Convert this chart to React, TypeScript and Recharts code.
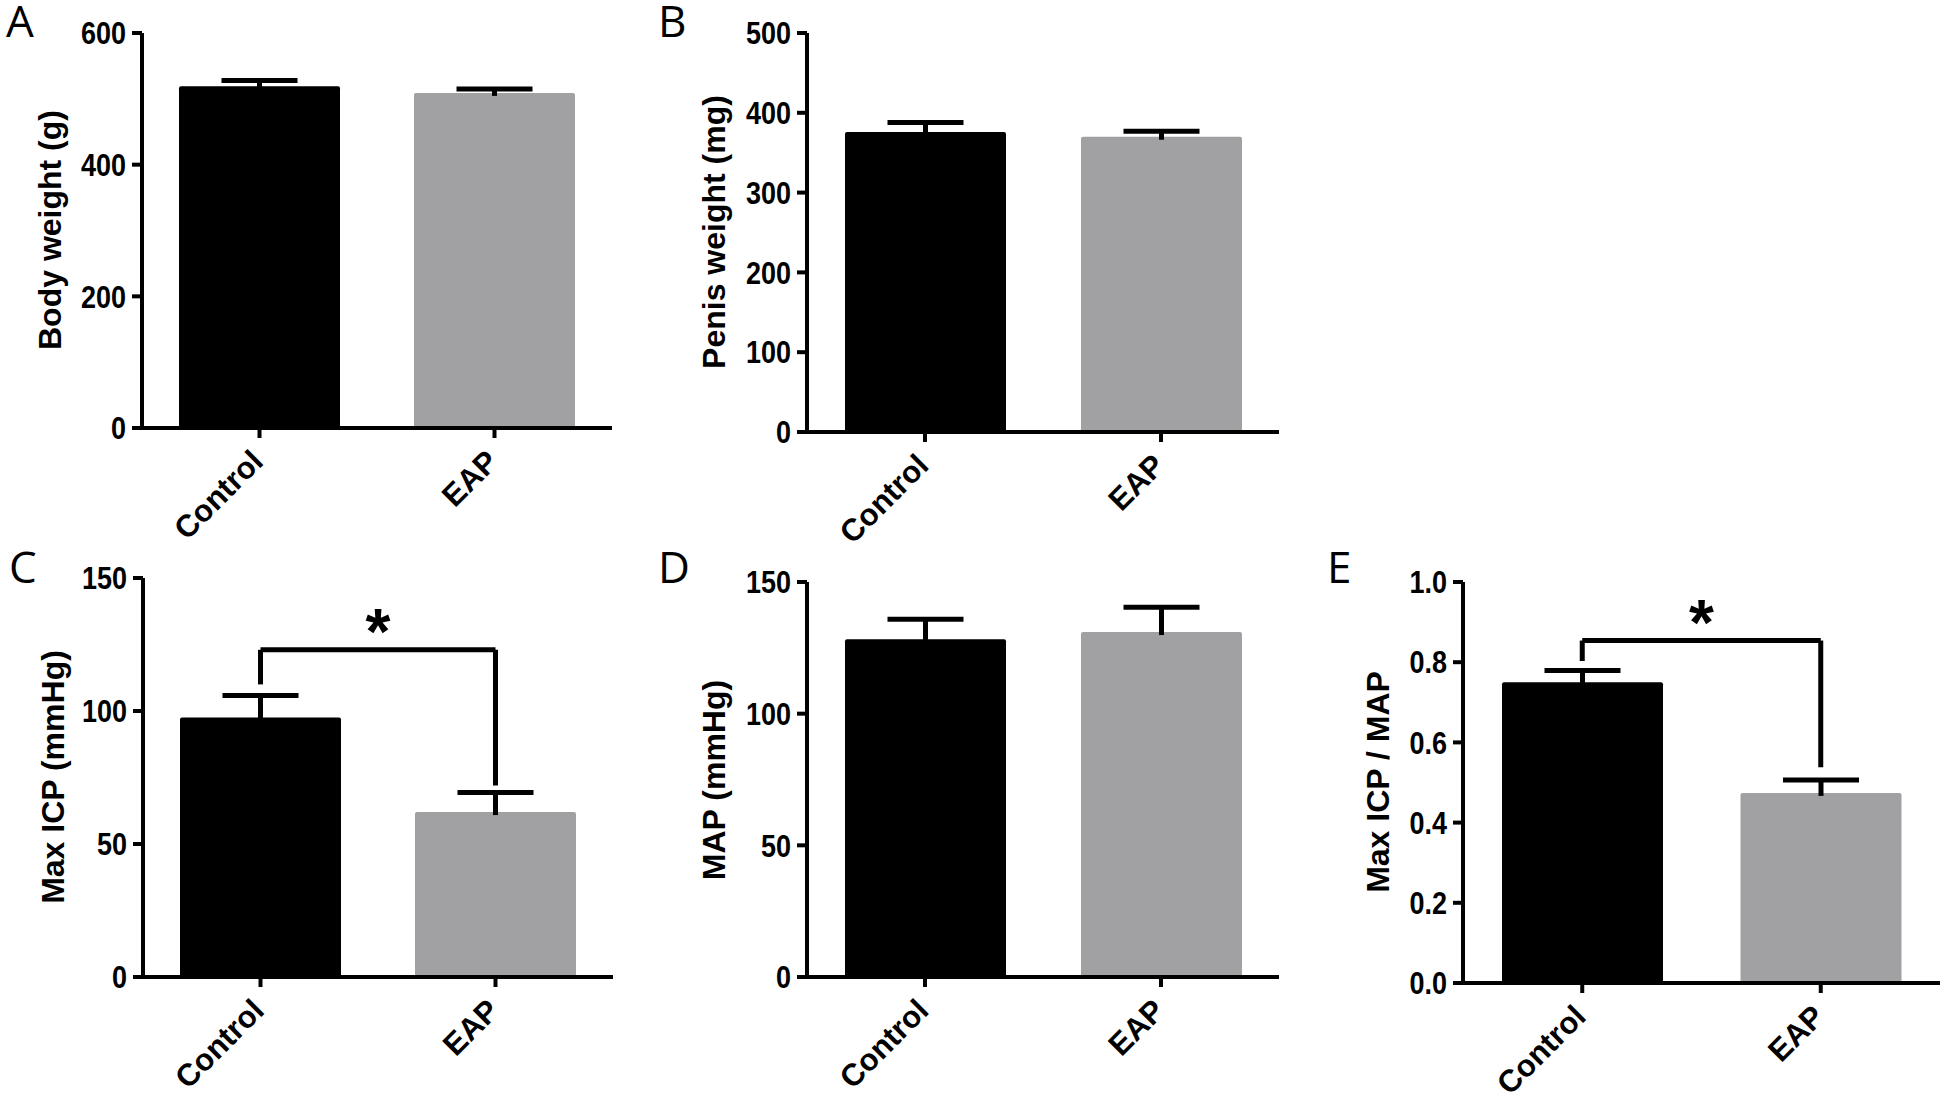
import React from 'react';
import { BarChart, Bar, XAxis, YAxis, ReferenceLine } from 'recharts';

const groups = ['Control', 'EAP'];
const barColors = ['#000000', '#a1a1a4'];

// panel A
const bodyWeight = [519, 509];
const bodyWeightSd = [9, 6];
const bodyWeightTicks = [0, 200, 400, 600];
// panel B
const penisWeight = [376, 370];
const penisWeightSd = [12, 7];
const penisWeightTicks = [0, 100, 200, 300, 400, 500];
// panel C
const maxIcp = [97.6, 62];
const maxIcpSd = [8.2, 7.4];
const maxIcpTicks = [0, 50, 100, 150];
const maxIcpBracket = [110, 123, 72]; // left leg end, bracket, right leg end
// panel D
const mapValues = [128.3, 131];
const mapSd = [7.6, 9.4];
const mapTicks = [0, 50, 100, 150];
// panel E
const icpMapRatio = [0.75, 0.474];
const icpMapRatioSd = [0.029, 0.032];
const icpMapRatioTicks = [0, 0.2, 0.4, 0.6, 0.8, 1.0];
const icpMapBracket = [0.803, 0.854, 0.538];

const FONT = "'Liberation Sans', Arial, sans-serif";
const Y_W = 100;
const X_H = 100;

const BarWithError = (props: any) => {
  const { x, y, width, height, payload } = props;
  if (!payload || !height) return null;
  const unit = height / payload.value;
  const top = y - payload.sd * unit;
  const cx = x + width / 2;
  return (
    <g>
      <rect x={x} y={y} width={width} height={height} fill={payload.color} rx={2} />
      <line x1={cx} x2={cx} y1={y + 3} y2={top} stroke="#000" strokeWidth={5} />
      <line x1={cx - 38} x2={cx + 38} y1={top} y2={top} stroke="#000" strokeWidth={5} />
    </g>
  );
};

const CategoryTick = (props: any) => {
  const { x, y, payload } = props;
  return (
    <g transform={`translate(${x - 10},${y + 8})`}>
      <text x={0} y={0} dy="0.7em" textAnchor="end" transform="rotate(-45)"
        fontFamily={FONT} fontWeight="bold" fontSize={31} fill="#000">
        {payload.value}
      </text>
    </g>
  );
};

const NumberTick = (props: any) => {
  const { x, y, payload, decimals } = props;
  return (
    <text transform={`translate(${x},${y}) scale(0.87,1)`} dy="0.36em" textAnchor="end"
      fontFamily={FONT} fontWeight="bold" fontSize={31} fill="#000">
      {Number(payload.value).toFixed(decimals)}
    </text>
  );
};

type PanelProps = {
  values: number[];
  sds: number[];
  ticks: number[];
  box: { x: number; y: number; w: number; h: number };
  plot: { l: number; t: number; r: number; b: number };
  bracket?: number[];
  decimals?: number;
};

function Panel({ values, sds, ticks, box, plot, bracket, decimals = 0 }: PanelProps) {
  const data = groups.map((g, i) => ({ name: g, value: values[i], sd: sds[i], color: barColors[i] }));
  const margin = {
    top: plot.t - box.y,
    left: plot.l - box.x - Y_W,
    right: box.x + box.w - plot.r,
    bottom: box.y + box.h - plot.b - X_H,
  };
  const axisStyle = { stroke: '#000', strokeWidth: 4 };
  return (
    <div style={{ position: 'absolute', left: box.x, top: box.y }}>
      <BarChart width={box.w} height={box.h} data={data} margin={margin} barSize={161}>
        <XAxis dataKey="name" height={X_H} axisLine={axisStyle} tickLine={axisStyle} tickSize={10}
          tick={<CategoryTick />} interval={0} />
        <YAxis width={Y_W} domain={[0, ticks[ticks.length - 1]]} ticks={ticks} interval={0}
          axisLine={axisStyle} tickLine={axisStyle} tickSize={10} tickMargin={6}
          tick={<NumberTick decimals={decimals} />} />
        <Bar dataKey="value" shape={<BarWithError />} isAnimationActive={false} />
        {bracket && (
          <>
            <ReferenceLine segment={[{ x: groups[0], y: bracket[0] }, { x: groups[0], y: bracket[1] }]} stroke="#000" strokeWidth={5} />
            <ReferenceLine segment={[{ x: groups[1], y: bracket[2] }, { x: groups[1], y: bracket[1] }]} stroke="#000" strokeWidth={5} />
            <ReferenceLine segment={[{ x: groups[0], y: bracket[1] }, { x: groups[1], y: bracket[1] }]} stroke="#000" strokeWidth={5}
              label={{ value: '*', position: 'top', offset: -4, fill: '#000', fontFamily: FONT, fontWeight: 'bold', fontSize: 64 }} />
          </>
        )}
      </BarChart>
    </div>
  );
}

// panel letters and rotated y-axis titles
const panelLetters = [
  { text: 'A', x: 6, y: 37 },
  { text: 'B', x: 658, y: 37 },
  { text: 'C', x: 9, y: 583 },
  { text: 'D', x: 658, y: 583 },
  { text: 'E', x: 1327, y: 583 },
];
const axisTitles = [
  { text: 'Body weight (g)', x: 50, y: 230 },
  { text: 'Penis weight (mg)', x: 714, y: 232 },
  { text: 'Max ICP (mmHg)', x: 53, y: 777 },
  { text: 'MAP (mmHg)', x: 714, y: 780 },
  { text: 'Max ICP / MAP', x: 1378, y: 782 },
];

export default function App() {
  return (
    <div style={{ position: 'absolute', left: 0, top: 0, width: 1946, height: 1096, background: '#fff', overflow: 'hidden' }}>
      <Panel values={bodyWeight} sds={bodyWeightSd} ticks={bodyWeightTicks}
        box={{ x: 0, y: 0, w: 650, h: 545 }} plot={{ l: 142, t: 33, r: 612, b: 428 }} />
      <Panel values={penisWeight} sds={penisWeightSd} ticks={penisWeightTicks}
        box={{ x: 650, y: 0, w: 650, h: 545 }} plot={{ l: 807, t: 33, r: 1279, b: 432 }} />
      <Panel values={maxIcp} sds={maxIcpSd} ticks={maxIcpTicks} bracket={maxIcpBracket}
        box={{ x: 0, y: 545, w: 650, h: 551 }} plot={{ l: 143, t: 578, r: 613, b: 977 }} />
      <Panel values={mapValues} sds={mapSd} ticks={mapTicks}
        box={{ x: 650, y: 545, w: 650, h: 551 }} plot={{ l: 807, t: 582, r: 1279, b: 977 }} />
      <Panel values={icpMapRatio} sds={icpMapRatioSd} ticks={icpMapRatioTicks} bracket={icpMapBracket}
        box={{ x: 1300, y: 545, w: 646, h: 551 }} plot={{ l: 1463, t: 582, r: 1940, b: 983 }} decimals={1} />
      <svg width={1946} height={1096} style={{ position: 'absolute', left: 0, top: 0, pointerEvents: 'none' }}>
        {panelLetters.map((l) => (
          <text key={l.text} x={l.x} y={l.y} fontFamily="'Open Sans', sans-serif" fontSize={44} fill="#000">{l.text}</text>
        ))}
        {axisTitles.map((t) => (
          <text key={t.text} transform={`translate(${t.x},${t.y}) rotate(-90)`} textAnchor="middle" dy="0.35em"
            fontFamily={FONT} fontWeight="bold" fontSize={32} fill="#000">{t.text}</text>
        ))}
      </svg>
    </div>
  );
}
